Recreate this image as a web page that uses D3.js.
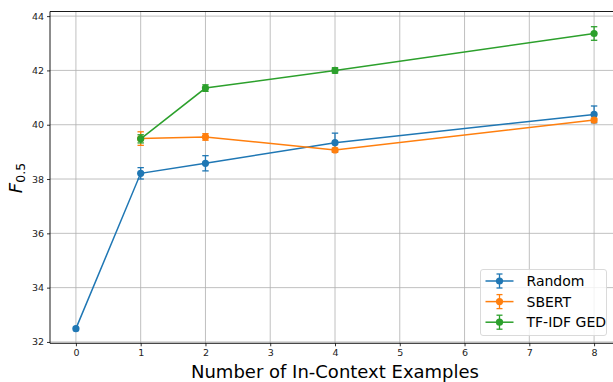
<!DOCTYPE html>
<html>
<head>
<meta charset="utf-8">
<script src="https://cdn.jsdelivr.net/npm/d3@7"></script>
<style>
body { margin: 0; background: #fff; }
svg { display: block; font-family: "DejaVu Sans", sans-serif; }
</style>
</head>
<body>
<script>
// data
const xTicks = [0, 1, 2, 3, 4, 5, 6, 7, 8];
const yTicks = [32, 34, 36, 38, 40, 42, 44];

const seriesNames = ["Random", "SBERT", "TF-IDF GED"];
const seriesColors = ["#1f77b4", "#ff7f0e", "#2ca02c"];

const randomX = [0, 1, 2, 4, 8];
const randomY = [32.49, 38.21, 38.58, 39.34, 40.38];
const randomErr = [0, 0.21, 0.28, 0.35, 0.31];

const sbertX = [1, 2, 4, 8];
const sbertY = [39.49, 39.55, 39.07, 40.17];
const sbertErr = [0.25, 0.12, 0.07, 0.07];

const tfidfX = [1, 2, 4, 8];
const tfidfY = [39.48, 41.35, 42.0, 43.36];
const tfidfErr = [0.15, 0.12, 0.1, 0.25];

const W = 613, H = 382;
const pLeft = 50, pRight = 620, pTop = 11.5, pBottom = 343.3;

const svg = d3.select("body").append("svg").attr("width", W).attr("height", H);

const x = d3.scaleLinear().domain([-0.4, 8.4]).range([pLeft, pRight]);
const y = d3.scaleLinear().domain([31.95, 44.17]).range([pBottom, pTop]);

// grid
const grid = svg.append("g");
grid.selectAll(".gx").data(xTicks).enter().append("line")
  .attr("x1", d => x(d)).attr("x2", d => x(d))
  .attr("y1", pTop).attr("y2", pBottom)
  .attr("stroke", "#b0b0b0").attr("stroke-width", 0.8);
grid.selectAll(".gy").data(yTicks).enter().append("line")
  .attr("x1", pLeft).attr("x2", pRight)
  .attr("y1", d => y(d)).attr("y2", d => y(d))
  .attr("stroke", "#b0b0b0").attr("stroke-width", 0.8);

const series = [
  {name: seriesNames[0], color: seriesColors[0], pts: randomX.map((v, i) => ({x: v, y: randomY[i], e: randomErr[i]}))},
  {name: seriesNames[1], color: seriesColors[1], pts: sbertX.map((v, i) => ({x: v, y: sbertY[i], e: sbertErr[i]}))},
  {name: seriesNames[2], color: seriesColors[2], pts: tfidfX.map((v, i) => ({x: v, y: tfidfY[i], e: tfidfErr[i]}))}
];

const line = d3.line().x(d => x(d.x)).y(d => y(d.y));

series.forEach(s => {
  const g = svg.append("g");
  g.append("path").attr("d", line(s.pts)).attr("fill", "none")
    .attr("stroke", s.color).attr("stroke-width", 1.5);
  const eb = s.pts.filter(d => d.e > 0);
  g.selectAll(".ev").data(eb).enter().append("line")
    .attr("x1", d => x(d.x)).attr("x2", d => x(d.x))
    .attr("y1", d => y(d.y - d.e)).attr("y2", d => y(d.y + d.e))
    .attr("stroke", s.color).attr("stroke-width", 1.3);
  [-1, 1].forEach(sign => {
    g.selectAll(".cap" + sign).data(eb).enter().append("line")
      .attr("x1", d => x(d.x) - 3.2).attr("x2", d => x(d.x) + 3.2)
      .attr("y1", d => y(d.y + sign * d.e)).attr("y2", d => y(d.y + sign * d.e))
      .attr("stroke", s.color).attr("stroke-width", 1.3);
  });
  g.selectAll("circle").data(s.pts).enter().append("circle")
    .attr("cx", d => x(d.x)).attr("cy", d => y(d.y)).attr("r", 3.6)
    .attr("fill", s.color);
});

// axes
const xAxis = svg.append("g").attr("transform", `translate(0,${pBottom})`)
  .call(d3.axisBottom(x).tickValues(xTicks).tickFormat(d3.format("d")).tickSize(3).tickPadding(3));
const yAxis = svg.append("g").attr("transform", `translate(${pLeft},0)`)
  .call(d3.axisLeft(y).tickValues(yTicks).tickFormat(d3.format("d")).tickSize(3).tickPadding(3));
[xAxis, yAxis].forEach(a => {
  a.select(".domain").remove();
  a.selectAll("line").attr("stroke", "#000").attr("stroke-width", 0.8);
  a.selectAll("text").attr("fill", "#222").attr("font-size", "9.5px")
    .attr("font-family", "DejaVu Sans, sans-serif");
});

// spines
svg.append("line").attr("x1", pLeft).attr("x2", pLeft).attr("y1", pTop).attr("y2", pBottom)
  .attr("stroke", "#000").attr("stroke-width", 0.9);
svg.append("line").attr("x1", pLeft).attr("x2", pRight).attr("y1", pTop).attr("y2", pTop)
  .attr("stroke", "#000").attr("stroke-width", 0.9);
svg.append("line").attr("x1", pLeft).attr("x2", pRight).attr("y1", pBottom).attr("y2", pBottom)
  .attr("stroke", "#000").attr("stroke-width", 0.9);

// axis labels
svg.append("text").attr("x", (pLeft + pRight) / 2).attr("y", 378)
  .attr("text-anchor", "middle").attr("font-size", "18px").attr("fill", "#000")
  .text("Number of In-Context Examples");

const yl = svg.append("text").attr("transform", "translate(22,178) rotate(-90)")
  .attr("text-anchor", "middle").attr("font-size", "18px").attr("fill", "#000");
yl.append("tspan").attr("font-style", "italic").text("F");
yl.append("tspan").attr("font-size", "12.5px").attr("dy", "3").text("0.5");

// legend
const lg = svg.append("g").attr("transform", "translate(480.5,269.5)");
lg.append("rect").attr("width", 126).attr("height", 66).attr("rx", 2.5)
  .attr("fill", "#fff").attr("fill-opacity", 0.8)
  .attr("stroke", "#d6d6d6").attr("stroke-width", 0.9);
series.forEach((s, i) => {
  const cy = 11.5 + i * 20.6;
  const it = lg.append("g").attr("transform", `translate(0,${cy})`);
  it.append("line").attr("x1", 5).attr("x2", 33).attr("y1", 0).attr("y2", 0)
    .attr("stroke", s.color).attr("stroke-width", 1.5);
  it.append("line").attr("x1", 19).attr("x2", 19).attr("y1", -7).attr("y2", 7)
    .attr("stroke", s.color).attr("stroke-width", 1.3);
  it.append("line").attr("x1", 16).attr("x2", 22).attr("y1", -7).attr("y2", -7)
    .attr("stroke", s.color).attr("stroke-width", 1.3);
  it.append("line").attr("x1", 16).attr("x2", 22).attr("y1", 7).attr("y2", 7)
    .attr("stroke", s.color).attr("stroke-width", 1.3);
  it.append("circle").attr("cx", 19).attr("cy", 0).attr("r", 3.6).attr("fill", s.color);
  it.append("text").attr("x", 46).attr("y", 0).attr("dy", "0.36em")
    .attr("font-size", "14px").attr("fill", "#000").text(s.name);
});
</script>
</body>
</html>
